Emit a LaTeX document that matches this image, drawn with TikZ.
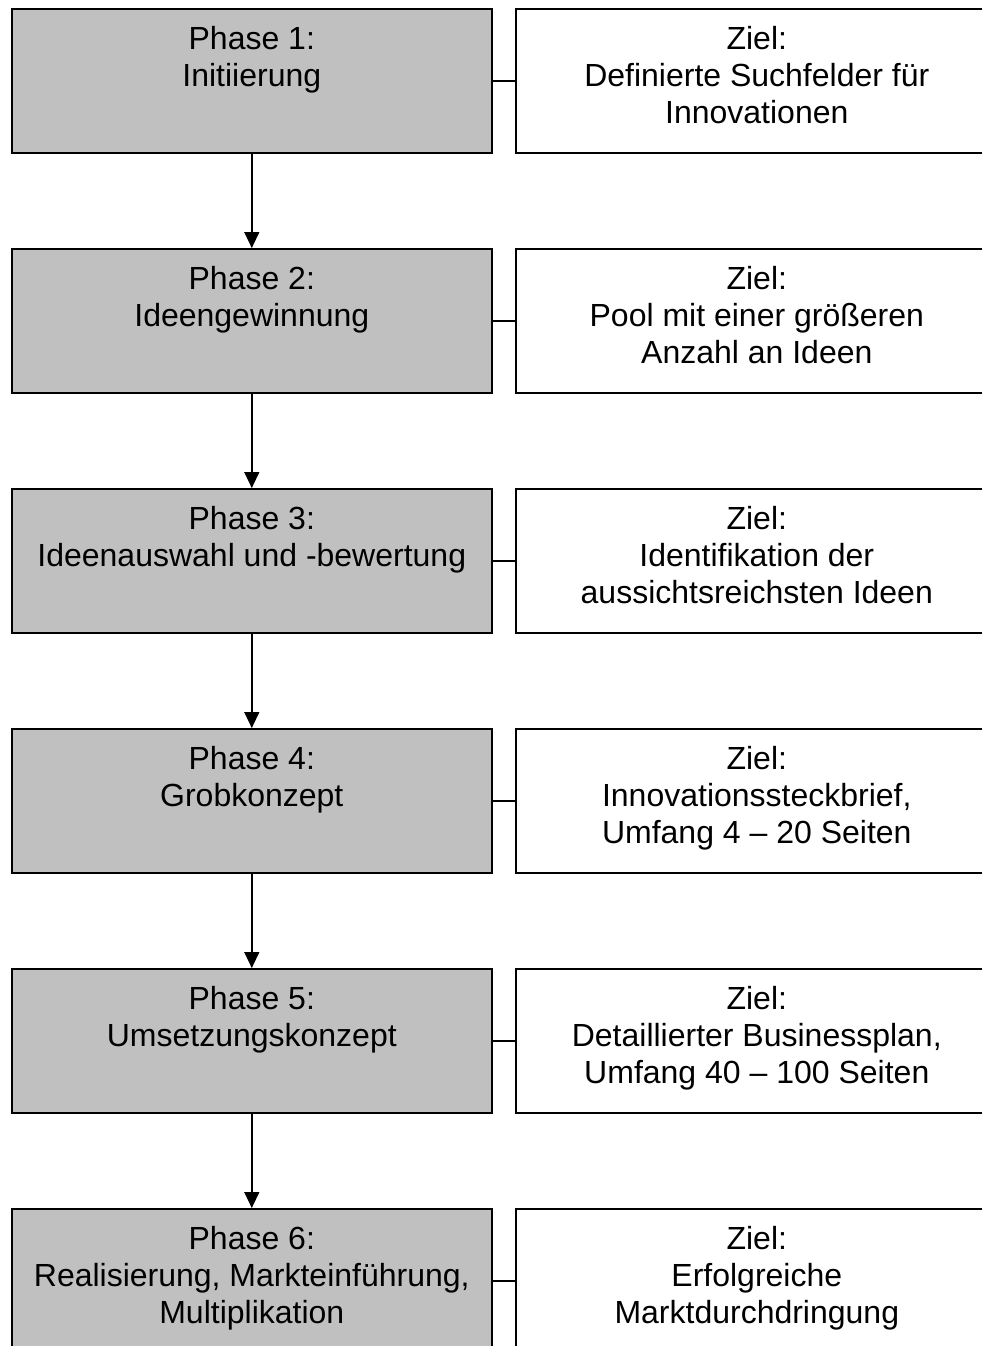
\documentclass[tikz,border=0pt]{standalone}
\usepackage{fontspec}
\setmainfont{Liberation Sans}
\usetikzlibrary{arrows.meta,calc}
\tikzset{
  phasebox/.style={draw=black, line width=1.6pt, fill={rgb,255:red,192;green,192;blue,192}, minimum width=480pt, minimum height=144pt, inner sep=0pt, anchor=north west},
  zielbox/.style={draw=black, line width=1.6pt, fill=white, minimum width=500pt, minimum height=144pt, inner sep=0pt, anchor=north west},
  boxtext/.style={anchor=north, align=center, inner sep=0pt, font=\fontsize{32}{37}\selectfont},
  flow/.style={line width=1.4pt, -{Triangle[width=15pt,length=16pt]}},
  link/.style={line width=1.4pt}
}
\begin{document}
\begin{tikzpicture}[x=1pt,y=-1pt]
\useasboundingbox (0,0) rectangle (982,1346);
\clip (0,0) rectangle (982,1346);
\foreach \i/\y in {1/8,2/248,3/488,4/728,5/968,6/1208}{
  \node[phasebox] (p\i) at (11,\y) {};
  \node[zielbox] (z\i) at (515,\y) {};
  \draw[link] (p\i.east) -- (z\i.west);
}
\node[boxtext] (tp1) at ($(p1.north)+(0,18)$) {Phase 1:\\Initiierung};
\node[boxtext] (tz1) at ($(p1.north-|z1.north)+(-9,18)$) {Ziel:\\Definierte Suchfelder für\\Innovationen};
\node[boxtext] (tp2) at ($(p2.north)+(0,18)$) {Phase 2:\\Ideengewinnung};
\node[boxtext] (tz2) at ($(p2.north-|z2.north)+(-9,18)$) {Ziel:\\Pool mit einer größeren\\Anzahl an Ideen};
\node[boxtext] (tp3) at ($(p3.north)+(0,18)$) {Phase 3:\\Ideenauswahl und -bewertung};
\node[boxtext] (tz3) at ($(p3.north-|z3.north)+(-9,18)$) {Ziel:\\Identifikation der\\aussichtsreichsten Ideen};
\node[boxtext] (tp4) at ($(p4.north)+(0,18)$) {Phase 4:\\Grobkonzept};
\node[boxtext] (tz4) at ($(p4.north-|z4.north)+(-9,18)$) {Ziel:\\Innovationssteckbrief,\\Umfang 4 – 20 Seiten};
\node[boxtext] (tp5) at ($(p5.north)+(0,18)$) {Phase 5:\\Umsetzungskonzept};
\node[boxtext] (tz5) at ($(p5.north-|z5.north)+(-9,18)$) {Ziel:\\Detaillierter Businessplan,\\Umfang 40 – 100 Seiten};
\node[boxtext] (tp6) at ($(p6.north)+(0,18)$) {Phase 6:\\Realisierung, Markteinführung,\\Multiplikation};
\node[boxtext] (tz6) at ($(p6.north-|z6.north)+(-9,18)$) {Ziel:\\Erfolgreiche\\Marktdurchdringung};
\foreach \a/\b in {1/2,2/3,3/4,4/5,5/6}{
  \draw[flow] (p\a.south) -- (p\b.north);
}
\end{tikzpicture}
\end{document}
